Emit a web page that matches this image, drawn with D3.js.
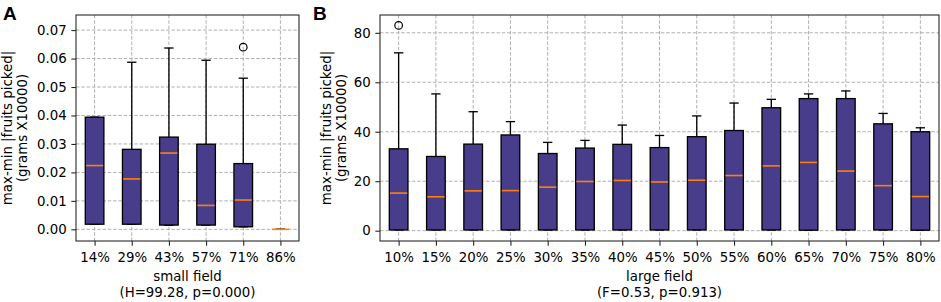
<!DOCTYPE html>
<html>
<head>
<meta charset="utf-8">
<script src="https://cdn.jsdelivr.net/npm/d3@7"></script>
<style>
  html, body { margin: 0; padding: 0; background: #fff; }
  svg { display: block; font-family: "DejaVu Sans", sans-serif; }
</style>
</head>
<body>
<svg id="chart" width="941" height="302"></svg>
<script>
// ---------- Panel A data (small field) ----------
const catsA = ["14%", "29%", "43%", "57%", "71%", "86%"];
const loA   = [0.0018, 0.0018, 0.0014, 0.0015, 0.0009, 0];
const q1A   = [0.0018, 0.0018, 0.0015, 0.0015, 0.0009, 0];
const medA  = [0.0224, 0.0177, 0.0268, 0.0084, 0.0103, 0];
const q3A   = [0.0394, 0.0281, 0.0324, 0.0299, 0.0231, 0];
const hiA   = [0.0394, 0.0587, 0.0637, 0.0594, 0.0531, 0];
const outA  = [[], [], [], [], [0.064], []];
const ticksA = [0, 0.01, 0.02, 0.03, 0.04, 0.05, 0.06, 0.07];

// ---------- Panel B data (large field) ----------
const catsB = ["10%", "15%", "20%", "25%", "30%", "35%", "40%", "45%", "50%", "55%", "60%", "65%", "70%", "75%", "80%"];
const loB   = [0.3, 0.3, 0.3, 0.3, 0.3, 0.3, 0.3, 0.3, 0.3, 0.3, 0.3, 0.2, 0.3, 0.3, 0.2];
const q1B   = [0.3, 0.3, 0.3, 0.3, 0.3, 0.3, 0.3, 0.3, 0.3, 0.3, 0.3, 0.2, 0.3, 0.3, 0.2];
const medB  = [15.2, 13.7, 16.1, 16.2, 17.6, 19.9, 20.3, 19.7, 20.4, 22.3, 26.2, 27.6, 24.1, 18.2, 13.8];
const q3B   = [33.1, 30.0, 35.0, 38.7, 31.2, 33.4, 34.9, 33.6, 38.0, 40.5, 49.7, 53.4, 53.4, 43.2, 40.0];
const hiB   = [71.9, 55.3, 48.1, 44.1, 35.7, 36.5, 42.7, 38.5, 46.4, 51.6, 53.1, 55.3, 56.5, 47.4, 41.6];
const outB  = [[83.0], [], [], [], [], [], [], [], [], [], [], [], [], [], []];
const ticksB = [0, 20, 40, 60, 80];

const yLabel1 = "max-min |fruits picked|";
const yLabel2 = "(grams X10000)";

const svg = d3.select("#chart");
const FONT = 13.33;
const BOXFILL = "#483d8b";
const MEDIAN = "#ff7f0e";
const GRID = "#b0b0b0";
const TICK = 4.67;

function panel(opt) {
  const { left, right, top, bottom, cats, lo, q1, med, q3, hi, outs, yDomain, ticks, fmt,
          letter, letterX, xlab1, xlab2, ylabX1, ylabX2 } = opt;
  const g = svg.append("g");
  const n = cats.length;
  const x = d3.scaleLinear().domain([0.5, n + 0.5]).range([left, right]);
  const y = d3.scaleLinear().domain(yDomain).range([bottom, top]);
  const bw = x(1.25) - x(0.75);
  const cw = x(1.125) - x(0.875);

  // grid
  g.append("g").selectAll("line").data(ticks).join("line")
    .attr("x1", left).attr("x2", right)
    .attr("y1", d => y(d)).attr("y2", d => y(d))
    .attr("stroke", GRID).attr("stroke-width", 1).attr("stroke-dasharray", "3.5,1.8");
  g.append("g").selectAll("line").data(cats).join("line")
    .attr("x1", (d, i) => x(i + 1)).attr("x2", (d, i) => x(i + 1))
    .attr("y1", top).attr("y2", bottom)
    .attr("stroke", GRID).attr("stroke-width", 1).attr("stroke-dasharray", "3.5,1.8");

  // boxes
  const boxes = g.append("g").selectAll("g").data(cats).join("g");
  boxes.append("line")
    .attr("x1", (d, i) => x(i + 1)).attr("x2", (d, i) => x(i + 1))
    .attr("y1", (d, i) => y(q3[i])).attr("y2", (d, i) => y(hi[i]))
    .attr("stroke", "#000").attr("stroke-width", 1.33);
  boxes.append("line")
    .attr("x1", (d, i) => x(i + 1)).attr("x2", (d, i) => x(i + 1))
    .attr("y1", (d, i) => y(q1[i])).attr("y2", (d, i) => y(lo[i]))
    .attr("stroke", "#000").attr("stroke-width", 1.33);
  boxes.append("line")
    .attr("x1", (d, i) => x(i + 1) - cw / 2).attr("x2", (d, i) => x(i + 1) + cw / 2)
    .attr("y1", (d, i) => y(hi[i])).attr("y2", (d, i) => y(hi[i]))
    .attr("stroke", "#000").attr("stroke-width", 1.33);
  boxes.append("line")
    .attr("x1", (d, i) => x(i + 1) - cw / 2).attr("x2", (d, i) => x(i + 1) + cw / 2)
    .attr("y1", (d, i) => y(lo[i])).attr("y2", (d, i) => y(lo[i]))
    .attr("stroke", "#000").attr("stroke-width", 1.33);
  boxes.each(function (d, i) {
    if (q3[i] > q1[i]) {
      d3.select(this).append("rect")
        .attr("x", x(i + 1) - bw / 2).attr("width", bw)
        .attr("y", y(q3[i])).attr("height", y(q1[i]) - y(q3[i]))
        .attr("fill", BOXFILL).attr("stroke", "#000").attr("stroke-width", 1.33);
    }
  });
  boxes.append("line")
    .attr("x1", (d, i) => x(i + 1) - bw / 2 + 0.7).attr("x2", (d, i) => x(i + 1) + bw / 2 - 0.7)
    .attr("y1", (d, i) => y(med[i])).attr("y2", (d, i) => y(med[i]))
    .attr("stroke", MEDIAN).attr("stroke-width", 1.6);
  boxes.each(function (d, i) {
    d3.select(this).selectAll("circle").data(outs[i]).join("circle")
      .attr("cx", x(i + 1)).attr("cy", v => y(v)).attr("r", 3.8)
      .attr("fill", "none").attr("stroke", "#000").attr("stroke-width", 1.2);
  });

  // frame
  g.append("rect").attr("x", left).attr("y", top)
    .attr("width", right - left).attr("height", bottom - top)
    .attr("fill", "none").attr("stroke", "#222").attr("stroke-width", 1.07);

  // y axis
  const ya = d3.axisLeft(y).tickValues(ticks).tickFormat(fmt).tickSize(TICK).tickPadding(4.67);
  const yg = g.append("g").attr("transform", `translate(${left},0)`).call(ya);
  yg.select(".domain").remove();
  yg.selectAll("text").attr("font-size", FONT).attr("fill", "#000").attr("font-family", "DejaVu Sans");
  yg.selectAll("line").attr("stroke", "#222").attr("stroke-width", 1.07);

  // x axis
  const xa = d3.axisBottom(x).tickValues(d3.range(1, n + 1)).tickFormat((d) => cats[d - 1]).tickSize(TICK).tickPadding(6.6);
  const xg = g.append("g").attr("transform", `translate(0,${bottom})`).call(xa);
  xg.select(".domain").remove();
  xg.selectAll("text").attr("font-size", FONT).attr("fill", "#000").attr("font-family", "DejaVu Sans");
  xg.selectAll("line").attr("stroke", "#222").attr("stroke-width", 1.07);

  // x labels
  const cx = (left + right) / 2;
  g.append("text").attr("x", cx).attr("y", 281).attr("text-anchor", "middle")
    .attr("font-size", FONT).text(xlab1);
  g.append("text").attr("x", cx).attr("y", 297).attr("text-anchor", "middle")
    .attr("font-size", FONT).text(xlab2);

  // y labels
  const cy = (top + bottom) / 2;
  g.append("text").attr("transform", `translate(${ylabX1},${cy}) rotate(-90)`)
    .attr("text-anchor", "middle").attr("font-size", FONT).text(yLabel1);
  g.append("text").attr("transform", `translate(${ylabX2},${cy}) rotate(-90)`)
    .attr("text-anchor", "middle").attr("font-size", FONT).text(yLabel2);

  // panel letter
  svg.append("text").attr("x", letterX).attr("y", 20)
    .attr("font-size", 19).attr("font-weight", "bold")
    .attr("font-family", "Liberation Sans, Arial, sans-serif").text(letter);
}

panel({
  left: 76, right: 299, top: 15, bottom: 241,
  cats: catsA, lo: loA, q1: q1A, med: medA, q3: q3A, hi: hiA, outs: outA,
  yDomain: [-0.0041, 0.0753], ticks: ticksA, fmt: d3.format(".2f"),
  letter: "A", letterX: 3, xlab1: "small field", xlab2: "(H=99.28, p=0.000)",
  ylabX1: 11.5, ylabX2: 26.5
});

panel({
  left: 380, right: 939, top: 15, bottom: 241,
  cats: catsB, lo: loB, q1: q1B, med: medB, q3: q3B, hi: hiB, outs: outB,
  yDomain: [-4.17, 87.2], ticks: ticksB, fmt: d3.format("d"),
  letter: "B", letterX: 313, xlab1: "large field", xlab2: "(F=0.53, p=0.913)",
  ylabX1: 330.5, ylabX2: 345.5
});
</script>
</body>
</html>
